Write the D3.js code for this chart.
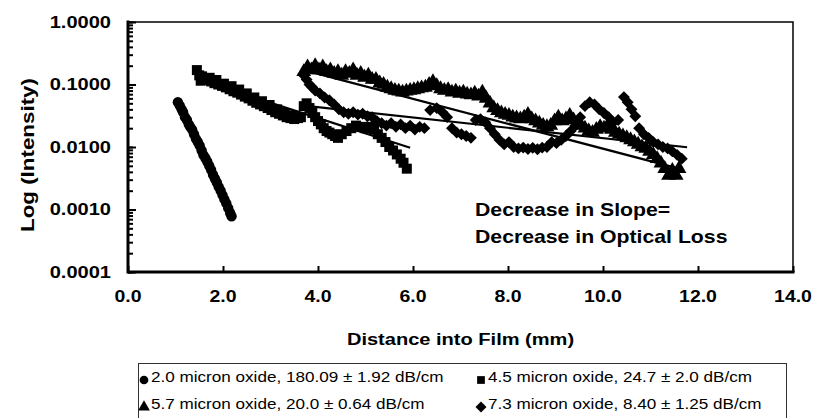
<!DOCTYPE html>
<html>
<head>
<meta charset="utf-8">
<script src="https://cdn.jsdelivr.net/npm/d3@7"></script>
<style>
  body { margin: 0; background: #fff; }
  text { font-family: 'Liberation Sans', Arial, sans-serif; fill: #000; }
</style>
</head>
<body>
<div id="root"></div>
<script>
// 2.0 micron oxide
const circlePts = [
  [1.05, 0.052], [1.09, 0.046], [1.13, 0.040], [1.16, 0.036], [1.20, 0.030],
  [1.24, 0.027], [1.28, 0.023], [1.31, 0.021], [1.35, 0.019], [1.39, 0.016],
  [1.43, 0.0135], [1.47, 0.012], [1.51, 0.0105], [1.55, 0.0088], [1.59, 0.0074],
  [1.63, 0.0066], [1.67, 0.0058], [1.71, 0.0050], [1.75, 0.0043], [1.79, 0.0036],
  [1.83, 0.0031], [1.87, 0.0027], [1.91, 0.0023], [1.95, 0.0020], [1.99, 0.0017],
  [2.03, 0.00145], [2.07, 0.00125], [2.11, 0.00105], [2.15, 0.00088], [2.18, 0.00078]
]
// 4.5 micron oxide
const squarePts = [
  [1.45, 0.170], [1.50, 0.140], [1.53, 0.115], [1.56, 0.135], [1.62, 0.125],
  [1.68, 0.118], [1.72, 0.128], [1.75, 0.112], [1.82, 0.105], [1.86, 0.118],
  [1.90, 0.100], [1.98, 0.095], [2.02, 0.103], [2.06, 0.090], [2.14, 0.084],
  [2.18, 0.094], [2.22, 0.078], [2.30, 0.074], [2.34, 0.083], [2.38, 0.069],
  [2.46, 0.064], [2.50, 0.072], [2.54, 0.060], [2.62, 0.055], [2.66, 0.062],
  [2.70, 0.051], [2.78, 0.048], [2.82, 0.054], [2.86, 0.045], [2.94, 0.042],
  [2.98, 0.047], [3.02, 0.039], [3.10, 0.036], [3.14, 0.040], [3.18, 0.034],
  [3.26, 0.032], [3.30, 0.035], [3.34, 0.030], [3.42, 0.029], [3.46, 0.032],
  [3.50, 0.028], [3.58, 0.029], [3.64, 0.030],
  [3.70, 0.045], [3.76, 0.050], [3.82, 0.042], [3.88, 0.035], [3.94, 0.030],
  [4.00, 0.026], [4.06, 0.023], [4.12, 0.020], [4.18, 0.018], [4.24, 0.017],
  [4.30, 0.016], [4.36, 0.015], [4.42, 0.014], [4.50, 0.016], [4.60, 0.018],
  [4.70, 0.020], [4.80, 0.022], [4.90, 0.021], [5.00, 0.020], [5.10, 0.021],
  [5.18, 0.019], [5.26, 0.016], [5.34, 0.014], [5.42, 0.012], [5.50, 0.010],
  [5.58, 0.0088], [5.66, 0.0076], [5.74, 0.0065], [5.80, 0.0056], [5.87, 0.0045]
]
// 5.7 micron oxide
const trianglePts = [
  [3.70, 0.16], [3.78, 0.19], [3.86, 0.17], [3.94, 0.20], [4.02, 0.17],
  [4.10, 0.19], [4.18, 0.16], [4.26, 0.17], [4.34, 0.15], [4.42, 0.16],
  [4.50, 0.14], [4.58, 0.16], [4.66, 0.15], [4.74, 0.17], [4.82, 0.14],
  [4.90, 0.15], [4.98, 0.13], [5.06, 0.14], [5.14, 0.12], [5.22, 0.12],
  [5.30, 0.105], [5.38, 0.10], [5.46, 0.09], [5.54, 0.085], [5.62, 0.08],
  [5.70, 0.078], [5.78, 0.075], [5.86, 0.078], [5.94, 0.08], [6.02, 0.082],
  [6.10, 0.085], [6.18, 0.088], [6.26, 0.09], [6.34, 0.10], [6.42, 0.11],
  [6.50, 0.095], [6.58, 0.085], [6.66, 0.08], [6.74, 0.082], [6.82, 0.075],
  [6.90, 0.078], [6.98, 0.072], [7.06, 0.075], [7.14, 0.07], [7.22, 0.068],
  [7.30, 0.072], [7.38, 0.065], [7.46, 0.075], [7.54, 0.06], [7.62, 0.05],
  [7.70, 0.042], [7.78, 0.038], [7.86, 0.035], [7.94, 0.033], [8.02, 0.032],
  [8.10, 0.030], [8.18, 0.029], [8.26, 0.028], [8.34, 0.030], [8.42, 0.033],
  [8.50, 0.028], [8.58, 0.026], [8.66, 0.024], [8.74, 0.022], [8.82, 0.021],
  [8.90, 0.022], [8.98, 0.026], [9.06, 0.030], [9.14, 0.026], [9.22, 0.028],
  [9.30, 0.032], [9.38, 0.027], [9.46, 0.024], [9.54, 0.022], [9.62, 0.020],
  [9.70, 0.018], [9.78, 0.017], [9.86, 0.019], [9.94, 0.021], [10.02, 0.020],
  [10.10, 0.022], [10.18, 0.019], [10.26, 0.017], [10.34, 0.016], [10.42, 0.015],
  [10.50, 0.014], [10.58, 0.013], [10.66, 0.012], [10.74, 0.011], [10.82, 0.010],
  [10.90, 0.0095], [10.98, 0.0085], [11.06, 0.0075], [11.14, 0.0065], [11.22, 0.0055],
  [11.30, 0.0045], [11.38, 0.0035], [11.46, 0.0042], [11.54, 0.0035], [11.60, 0.0045]
]
// 7.3 micron oxide
const diamondPts = [
  [3.70, 0.14], [3.76, 0.12], [3.82, 0.10], [3.88, 0.09], [3.94, 0.08],
  [4.04, 0.072], [4.14, 0.062], [4.24, 0.056], [4.34, 0.048], [4.44, 0.040],
  [4.54, 0.036], [4.64, 0.034], [4.74, 0.036], [4.84, 0.033], [4.94, 0.034],
  [5.04, 0.031], [5.14, 0.030], [5.24, 0.026], [5.34, 0.024], [5.44, 0.022],
  [5.54, 0.024], [5.64, 0.021], [5.74, 0.023], [5.84, 0.020], [5.94, 0.022],
  [6.04, 0.019], [6.14, 0.021], [6.24, 0.020], [6.36, 0.039], [6.50, 0.042],
  [6.62, 0.036], [6.72, 0.030], [6.82, 0.020], [6.92, 0.017], [7.02, 0.016],
  [7.12, 0.015], [7.22, 0.014], [7.32, 0.027], [7.42, 0.028], [7.52, 0.025],
  [7.62, 0.020], [7.72, 0.016], [7.82, 0.013], [7.92, 0.011], [8.02, 0.012],
  [8.12, 0.010], [8.22, 0.0095], [8.32, 0.0098], [8.42, 0.0093], [8.52, 0.0097],
  [8.62, 0.0092], [8.72, 0.0098], [8.82, 0.010], [8.92, 0.012], [9.02, 0.0115],
  [9.12, 0.013], [9.22, 0.015], [9.32, 0.018], [9.42, 0.022], [9.52, 0.030],
  [9.62, 0.045], [9.72, 0.052], [9.82, 0.048], [9.92, 0.040], [10.02, 0.035],
  [10.12, 0.030], [10.22, 0.025], [10.32, 0.027], [10.44, 0.063], [10.52, 0.052],
  [10.60, 0.040], [10.68, 0.031], [10.76, 0.020], [10.86, 0.016], [10.96, 0.014],
  [11.06, 0.012], [11.16, 0.011], [11.26, 0.010], [11.36, 0.0095], [11.46, 0.0085],
  [11.56, 0.0075], [11.66, 0.0065]
]

// exponential trendlines, start and end
const fitX = [[1.05, 2.18], [1.45, 5.94], [3.70, 11.60], [3.70, 11.77]]
const fitV = [[0.055, 0.00075], [0.122, 0.0097], [0.17, 0.0045], [0.046, 0.0099]]

const legendLabels = [
  '2.0 micron oxide, 180.09 \u00b1 1.92 dB/cm',
  '4.5 micron oxide, 24.7 \u00b1 2.0 dB/cm',
  '5.7 micron oxide, 20.0 \u00b1 0.64 dB/cm',
  '7.3 micron oxide, 8.40 \u00b1 1.25 dB/cm'
]
const xTicks = [0, 2, 4, 6, 8, 10, 12, 14]
const yTicks = [0.0001, 0.001, 0.01, 0.1, 1]
const note = ['Decrease in Slope=', 'Decrease in Optical Loss']

// the source picture is stretched sideways, so text is too
const SX = 1.18

const W = 821, H = 418
const svg = d3.select('#root').append('svg').attr('width', W).attr('height', H)

const x = d3.scaleLinear().domain([0, 14]).range([128, 793])
const y = d3.scaleLog().domain([0.0001, 1]).range([272, 22])

function label(g, px, py, str, size, weight, anchor) {
  return g.append('text')
    .attr('transform', `translate(${px},${py}) scale(${SX},1)`)
    .attr('text-anchor', anchor || 'start')
    .attr('dy', '0.35em')
    .style('font-size', size + 'px')
    .style('font-weight', weight || 'normal')
    .text(str)
}

// minor and major ticks on the y axis, pointing inward
svg.append('g')
  .attr('transform', 'translate(128,0)')
  .call(d3.axisRight(y).tickValues(y.ticks()).tickSize(5).tickFormat(''))
  .call(g => g.select('.domain').remove())
  .call(g => g.selectAll('line').attr('stroke', '#000').attr('stroke-width', 2))
svg.append('g')
  .attr('transform', 'translate(128,0)')
  .call(d3.axisRight(y).tickValues(yTicks).tickSize(8).tickFormat(''))
  .call(g => g.select('.domain').remove())
  .call(g => g.selectAll('line').attr('stroke', '#000').attr('stroke-width', 2))

svg.append('g')
  .attr('transform', 'translate(0,272)')
  .call(d3.axisTop(x).tickValues(xTicks).tickSize(6).tickFormat(''))
  .call(g => g.select('.domain').remove())
  .call(g => g.selectAll('line').attr('stroke', '#000').attr('stroke-width', 2))

// plot frame
svg.append('path')
  .attr('d', `M${x(0)},${y(1)}H${x(14)}V${y(0.0001)}`)
  .attr('fill', 'none').attr('stroke', '#000').attr('stroke-width', 1.5)
svg.append('path')
  .attr('d', `M${x(0)},${y(1)}V${y(0.0001)}H${x(14)}`)
  .attr('fill', 'none').attr('stroke', '#000').attr('stroke-width', 3)
  .attr('stroke-linecap', 'square')

yTicks.forEach(t => label(svg, 111, y(t), d3.format('.4f')(t), 17, 'bold', 'end'))
xTicks.forEach(t => label(svg, x(t), 296, d3.format('.1f')(t), 16.5, 'bold', 'middle'))

label(svg, (x(0) + x(14)) / 2, 339, 'Distance into Film (mm)', 17, 'bold', 'middle')
svg.append('text')
  .attr('transform', 'translate(28,155) rotate(-90)')
  .attr('text-anchor', 'middle')
  .attr('dy', '0.35em')
  .attr('textLength', 154)
  .attr('lengthAdjust', 'spacingAndGlyphs')
  .style('font-size', '18px')
  .style('font-weight', 'bold')
  .text('Log (Intensity)')

// symbols
const shapes = [
  d3.symbol().type(d3.symbolCircle).size(85),
  d3.symbol().type(d3.symbolSquare).size(100),
  d3.symbol().type(d3.symbolTriangle).size(95),
  d3.symbol().type(d3.symbolSquare).size(70)
]
const rot = [0, 0, 0, 45]
const series = [circlePts, squarePts, trianglePts, diamondPts]

const line = d3.line().x(d => x(d[0])).y(d => y(d[1]))
const plot = svg.append('g')

series.forEach((pts, i) => {
  plot.append('g').selectAll('path')
    .data(pts)
    .join('path')
    .attr('d', shapes[i]())
    .attr('transform', d => `translate(${x(d[0])},${y(d[1])}) rotate(${rot[i]})`)
    .attr('fill', '#000')
})
fitX.forEach((xs, i) => {
  plot.append('path')
    .datum([[xs[0], fitV[i][0]], [xs[1], fitV[i][1]]])
    .attr('d', line)
    .attr('fill', 'none').attr('stroke', '#000').attr('stroke-width', 2.2)
})

label(svg, 475, 210, note[0], 18, 'bold')
label(svg, 475, 237, note[1], 18, 'bold')

// legend
const lg = svg.append('g')
lg.append('rect')
  .attr('x', 138.5).attr('y', 363.5).attr('width', 648).attr('height', 60)
  .attr('fill', '#fff').attr('stroke', '#333').attr('stroke-width', 1)
const cols = [151, 488]
const rows = [377, 404]
legendLabels.forEach((t, i) => {
  const cx = cols[i % 2], cy = rows[Math.floor(i / 2)]
  lg.append('path')
    .attr('d', d3.symbol().type([d3.symbolCircle, d3.symbolSquare, d3.symbolTriangle, d3.symbolSquare][i]).size(60)())
    .attr('transform', `translate(${cx - 7},${cy + 3}) rotate(${rot[i]})`)
    .attr('fill', '#000')
  label(lg, cx, cy, t, 14.5)
})
</script>
</body>
</html>
